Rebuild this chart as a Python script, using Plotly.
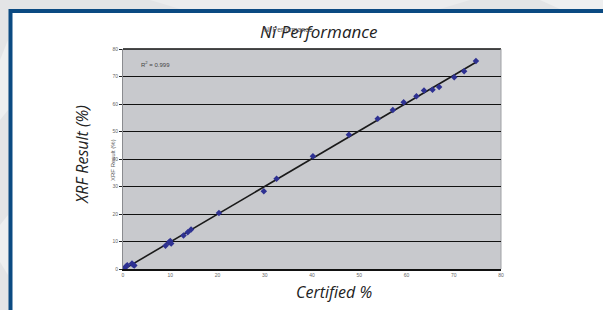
import numpy as np
import plotly.graph_objects as go

# ---- data ----
certified = [0.3, 0.7, 0.9, 1.9, 2.2, 2.4, 9.0, 9.7, 10.0, 10.2, 12.8, 13.7, 14.4,
             20.3, 29.8, 32.5, 40.2, 47.8, 53.9, 57.1, 59.4, 62.1, 63.7, 65.5,
             66.9, 70.1, 72.2, 74.7]
xrf_result = [0.3, 1.0, 1.4, 2.0, 1.5, 1.3, 8.5, 9.6, 10.2, 9.3, 12.2, 13.4, 14.4,
              20.4, 28.3, 32.8, 41.0, 48.8, 54.6, 57.8, 60.6, 62.8, 64.9, 65.2,
              66.2, 69.7, 71.9, 75.6]
x_ticks = [0, 10, 20, 30, 40, 50, 60, 70, 80]
y_ticks = [0, 10, 20, 30, 40, 50, 60, 70, 80]
r2_label = "R<sup>2</sup> = 0.999"
title_text = "Ni Performance"
x_title = "Certified %"
y_title = "XRF Result (%)"

# trend line from a linear fit of the data
slope, intercept = np.polyfit(certified, xrf_result, 1)
tx = np.array([min(certified), max(certified)])
ty = slope * tx + intercept

W, H = 603, 310
ML, MR, MT, MB = 123, 102, 49, 41
PW, PH = W - ML - MR, H - MT - MB


def px(x):
    return (x - ML) / PW


def py(y):
    return 1 - (y - MT) / PH


fig = go.Figure()
fig.add_trace(go.Scatter(x=tx, y=ty, mode="lines",
                         line=dict(color="#1a1a1a", width=1.6),
                         hoverinfo="skip", showlegend=False))
fig.add_trace(go.Scatter(x=certified, y=xrf_result, mode="markers",
                         marker=dict(symbol="diamond", size=5, color="#2e3192",
                                     line=dict(width=0)),
                         showlegend=False))

shapes = []
# subtle lighter background patches
shapes.append(dict(type="path", xref="paper", yref="paper", layer="below",
                   path=f"M {px(150)},{py(0)} L {px(470)},{py(0)} L {px(440)},{py(9)} L {px(180)},{py(9)} Z",
                   fillcolor="#ebeced", line=dict(width=0)))
shapes.append(dict(type="path", xref="paper", yref="paper", layer="below",
                   path=f"M {px(540)},{py(0)} L {px(603)},{py(0)} L {px(603)},{py(9)} L {px(560)},{py(9)} Z",
                   fillcolor="#eeeff0", line=dict(width=0)))
shapes.append(dict(type="path", xref="paper", yref="paper", layer="below",
                   path=f"M {px(0)},{py(60)} L {px(8)},{py(40)} L {px(8)},{py(110)} L {px(0)},{py(120)} Z",
                   fillcolor="#eeeff0", line=dict(width=0)))
shapes.append(dict(type="path", xref="paper", yref="paper", layer="below",
                   path=f"M {px(0)},{py(225)} L {px(8)},{py(215)} L {px(8)},{py(275)} L {px(0)},{py(262)} Z",
                   fillcolor="#eeeff0", line=dict(width=0)))
# blue frame
shapes.append(dict(type="rect", xref="paper", yref="paper", layer="below",
                   x0=px(8.5), x1=px(640), y0=py(9), y1=py(340),
                   fillcolor="#0b4a82", line=dict(width=0)))
# white panel
shapes.append(dict(type="rect", xref="paper", yref="paper", layer="below",
                   x0=px(12.5), x1=px(640), y0=py(13), y1=py(340),
                   fillcolor="#ffffff", line=dict(width=0)))
# plot area fill
shapes.append(dict(type="rect", xref="paper", yref="paper", layer="below",
                   x0=0, x1=1, y0=0, y1=1,
                   fillcolor="#c8c9cd", line=dict(width=0)))
# lighter gridline at 30
shapes.append(dict(type="line", xref="paper", yref="y", layer="between",
                   x0=0, x1=1, y0=30, y1=30,
                   line=dict(color="#a3a4a8", width=1.2)))
# top border (black) and right border (gray)
shapes.append(dict(type="line", xref="paper", yref="paper", layer="between",
                   x0=0, x1=1, y0=1, y1=1, line=dict(color="#111111", width=1.6)))
shapes.append(dict(type="line", xref="paper", yref="paper", layer="between",
                   x0=1, x1=1, y0=0, y1=1, line=dict(color="#a0a1a5", width=1)))

annotations = [
    dict(text=title_text, xref="paper", yref="paper", x=px(318), y=py(31),
         showarrow=False, font=dict(family="Open Sans", size=17, color="#222222",
                                    style="italic"),
         xanchor="center", yanchor="middle"),
    dict(text=title_text, xref="paper", yref="paper", x=px(288), y=py(30),
         showarrow=False, font=dict(family="Liberation Sans", size=7, color="#555555"),
         xanchor="center", yanchor="middle"),
    dict(text=x_title, xref="paper", yref="paper", x=px(334), y=py(292),
         showarrow=False, font=dict(family="Open Sans", size=16, color="#222222",
                                    style="italic"),
         xanchor="center", yanchor="middle"),
    dict(text=y_title, xref="paper", yref="paper", x=px(82), y=py(155),
         showarrow=False, textangle=-90,
         font=dict(family="Open Sans", size=16, color="#222222", style="italic"),
         xanchor="center", yanchor="middle"),
    dict(text=y_title, xref="paper", yref="paper", x=px(113), y=py(160),
         showarrow=False, textangle=-90,
         font=dict(family="Liberation Sans", size=6, color="#555555"),
         xanchor="center", yanchor="middle"),
    dict(text=r2_label, xref="paper", yref="paper", x=px(139), y=py(64),
         showarrow=False, font=dict(family="Liberation Sans", size=6, color="#444444"),
         xanchor="left", yanchor="middle"),
]

fig.update_layout(
    width=W, height=H,
    margin=dict(l=ML, r=MR, t=MT, b=MB, pad=0),
    paper_bgcolor="#e3e4e6",
    plot_bgcolor="rgba(0,0,0,0)",
    shapes=shapes,
    annotations=annotations,
    showlegend=False,
    xaxis=dict(range=[0, 80], tickvals=x_ticks, ticktext=[str(v) for v in x_ticks],
               showgrid=False, zeroline=False, showline=True,
               linecolor="#111111", linewidth=1.6, ticks="",
               tickfont=dict(family="Liberation Sans", size=5, color="#666666")),
    yaxis=dict(range=[0, 80], tickvals=y_ticks, ticktext=[str(v) for v in y_ticks],
               showgrid=True, gridcolor="#111111", gridwidth=1,
               zeroline=False, showline=True, linecolor="#8a8b8f", linewidth=1,
               ticks="outside", ticklen=3, tickcolor="#222222", tickwidth=1,
               tickfont=dict(family="Liberation Sans", size=5, color="#666666")),
)

fig.write_html(
    "out.html",
    config={"displayModeBar": False},
    post_script="document.body.style.margin='0';document.body.style.padding='0';"
                "document.body.style.overflow='hidden';"
                "document.documentElement.style.overflow='hidden';",
)
